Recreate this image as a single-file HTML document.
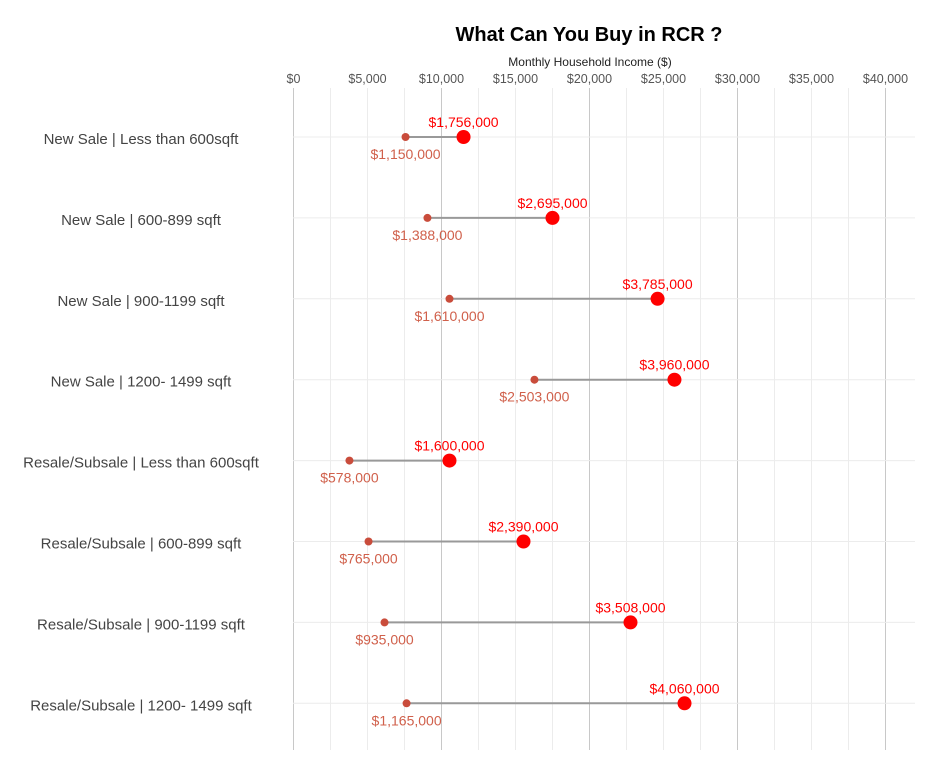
<!DOCTYPE html>
<html><head><meta charset="utf-8"><style>
body{margin:0;background:#fff;}
svg text{font-family:"Liberation Sans",Arial,sans-serif;}
</style></head><body>
<svg id="chart" width="940" height="777">
<text x="589" y="41" text-anchor="middle" font-size="20" font-weight="bold" fill="#000">What Can You Buy in RCR ?</text>
<text x="590" y="66" text-anchor="middle" font-size="12" fill="#222">Monthly Household Income ($)</text>
<g id="grid"></g><g id="ticks"></g><g id="rows"></g>
</svg>
<script>
const categories=["New Sale | Less than 600sqft","New Sale | 600-899 sqft","New Sale | 900-1199 sqft","New Sale | 1200- 1499 sqft","Resale/Subsale | Less than 600sqft","Resale/Subsale | 600-899 sqft","Resale/Subsale | 900-1199 sqft","Resale/Subsale | 1200- 1499 sqft"];
const lowIncome=[7570,9050,10540,16280,3780,5070,6150,7640];
const highIncome=[11490,17500,24600,25740,10540,15540,22770,26420];
const lowLabels=["$1,150,000","$1,388,000","$1,610,000","$2,503,000","$578,000","$765,000","$935,000","$1,165,000"];
const highLabels=["$1,756,000","$2,695,000","$3,785,000","$3,960,000","$1,600,000","$2,390,000","$3,508,000","$4,060,000"];
const tickValues=[0,5000,10000,15000,20000,25000,30000,35000,40000];
const tickLabels=["$0","$5,000","$10,000","$15,000","$20,000","$25,000","$30,000","$35,000","$40,000"];
const NS="http://www.w3.org/2000/svg";
const x=v=>293.5+v*0.0148;
const y=i=>137+i*80.9;
function mk(tag,attrs,parent,txt){const e=document.createElementNS(NS,tag);for(const k in attrs)e.setAttribute(k,attrs[k]);if(txt!=null)e.textContent=txt;parent.appendChild(e);return e;}
const grid=document.getElementById('grid'),ticks=document.getElementById('ticks'),rows=document.getElementById('rows');
for(let v=0;v<=40000;v+=2500){const major=v%10000===0;const l=mk('line',{x1:x(v),x2:x(v),y1:88,y2:750,stroke:major?'#c8c8c8':'#ececec','stroke-width':1},grid);

}
categories.forEach((c,i)=>{const l=mk('line',{x1:293,x2:915,y1:y(i),y2:y(i),stroke:'#ececec'},grid);

});
tickValues.forEach((v,i)=>{const t=mk('text',{x:x(v),y:83,'text-anchor':'middle','font-size':12.5,fill:'#555'},ticks,tickLabels[i]);

});
categories.forEach((c,i)=>{const g=mk('g',{},rows);


const lab=mk('text',{x:141,y:y(i)+7,'text-anchor':'middle','font-size':15,fill:'#444'},g,c);


const ln=mk('line',{x1:x(lowIncome[i]),x2:x(highIncome[i]),y1:y(i),y2:y(i),stroke:'#999','stroke-width':2},g);


const p1=mk('circle',{cx:x(lowIncome[i]),cy:y(i),r:4,fill:'#c94c3b'},g);


const p2=mk('circle',{cx:x(highIncome[i]),cy:y(i),r:7,fill:'#ff0000'},g);


const t1=mk('text',{x:x(lowIncome[i]),y:y(i)+22,'text-anchor':'middle','font-size':14,fill:'#d0604b'},g,lowLabels[i]);


const t2=mk('text',{x:x(highIncome[i]),y:y(i)-10,'text-anchor':'middle','font-size':14,fill:'#ff0000'},g,highLabels[i]);

});
</script>
</body></html>
